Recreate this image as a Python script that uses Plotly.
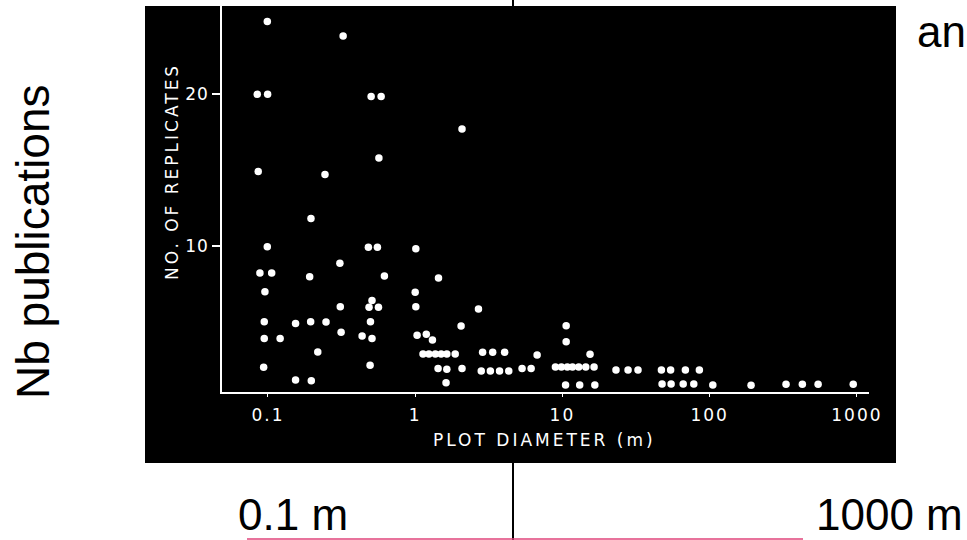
import plotly.graph_objects as go

# ---- data ----
diameter_m = [
    0.099, 0.0846, 0.0995, 0.0859, 0.099, 0.0882, 0.106, 0.0954, 0.0944, 0.0944, 0.121, 0.0935,
    0.324, 0.244, 0.196, 0.154, 0.192, 0.195, 0.248, 0.218, 0.154, 0.197, 0.308, 0.31, 0.314,
    0.502, 0.587, 0.567, 0.481, 0.554, 0.618, 0.509, 0.486, 0.563, 0.497, 0.436, 0.509, 0.494,
    2.08,
    1.01, 1.0, 1.01, 1.03, 1.19, 1.31,
    1.13, 1.24, 1.37, 1.50, 1.64, 1.87,
    1.44, 1.43, 1.64, 1.62, 2.08, 2.05,
    2.69, 2.87, 3.36, 4.05, 2.81, 3.24, 3.74, 4.32,
    5.32, 6.13, 6.73,
    10.6, 10.6,
    8.96, 9.84, 10.8, 11.7, 12.9, 14.4, 16.4,
    15.4, 10.5, 13.1, 16.6,
    23.1, 27.9, 32.6, 47, 54.3, 68.4, 85.1,
    47.5, 54.7, 66.1, 78,
    105, 191, 330, 426, 545, 944,
]
replicates = [
    24.8, 20.0, 20.0, 14.9, 9.93, 8.2, 8.2, 6.96, 4.98, 3.88, 3.88, 1.97,
    23.85, 14.7, 11.8, 4.87, 7.95, 4.98, 4.96, 2.98, 1.13, 1.08, 8.84, 5.97, 4.28,
    19.85, 19.85, 15.8, 9.9, 9.9, 8.0, 6.39, 5.93, 5.93, 4.98, 4.04, 3.88, 2.1,
    17.7,
    9.8, 6.92, 5.97, 4.08, 4.15, 3.77,
    2.85, 2.85, 2.85, 2.85, 2.85, 2.85,
    7.87, 1.9, 1.84, 0.95, 1.9, 4.7,
    5.82, 2.96, 2.96, 2.96, 1.72, 1.72, 1.72, 1.72,
    1.9, 1.9, 2.78,
    4.72, 3.66,
    1.99, 1.99, 1.99, 1.99, 1.99, 1.99, 1.99,
    2.83, 0.8, 0.8, 0.8,
    1.79, 1.79, 1.79, 1.79, 1.79, 1.79, 1.79,
    0.87, 0.87, 0.87, 0.87,
    0.8, 0.78, 0.85, 0.85, 0.85, 0.85,
]

x_tick_vals = [0.1, 1, 10, 100, 1000]
x_tick_labels = ["0.1", "1", "10", "100", "1000"]
y_tick_vals = [10, 20]
y_tick_labels = ["10", "20"]

x_title = "PLOT DIAMETER (m)"
y_title = "NO. OF REPLICATES"
slide_y_label = "Nb publications"
slide_left_label = "0.1 m"
slide_right_label = "1000 m"
slide_top_text = "an"

# target picture size (positions below are given in picture pixels)
W, H = 967, 540
# layout width used so the page fills the picture width exactly
LAYOUT_W = 980


def px(x):
    return x / W


def py(y):
    return 1 - y / H


def spaced(t, s):
    return f'<span style="letter-spacing:{s}px">{t}</span>'


scan_font = dict(family="DejaVu Sans", size=17, color="white")
slide_font = dict(family="Liberation Sans, Arial", size=44, color="black")

fig = go.Figure()
fig.add_trace(go.Scatter(
    x=diameter_m, y=replicates, mode="markers",
    marker=dict(color="white", size=7.5, line=dict(width=0)),
    showlegend=False, hoverinfo="skip",
))

fig.update_layout(
    width=LAYOUT_W, height=H, autosize=False,
    margin=dict(l=0, r=0, t=0, b=0, pad=0),
    paper_bgcolor="white",
    plot_bgcolor="black",
    xaxis=dict(
        type="log", range=[-1.312, 3.082],
        domain=[px(222), px(869)],
        showgrid=False, zeroline=False,
        showline=True, linecolor="white", linewidth=1.5,
        ticks="outside", ticklen=4, tickcolor="white", tickwidth=1,
        tickvals=x_tick_vals,
        ticktext=[spaced(t, 2) for t in x_tick_labels],
        tickfont=scan_font,
        ticklabelstandoff=3,
    ),
    yaxis=dict(
        range=[0.36, 25.83],
        domain=[py(391.7), py(6)],
        showgrid=False, zeroline=False,
        showline=True, linecolor="white", linewidth=1.5,
        ticks="outside", ticklen=8, tickcolor="white", tickwidth=1.5,
        tickvals=y_tick_vals,
        ticktext=[spaced(t, 1) for t in y_tick_labels],
        tickfont=scan_font,
    ),
    shapes=[
        dict(type="line", xref="paper", yref="paper",
             x0=px(513), x1=px(513), y0=0, y1=1,
             line=dict(color="black", width=2), layer="below"),
        dict(type="rect", xref="paper", yref="paper",
             x0=px(145), x1=px(896), y0=py(463), y1=py(6),
             fillcolor="black", line=dict(width=0), layer="below"),
        dict(type="line", xref="paper", yref="paper",
             x0=px(247), x1=px(803), y0=py(539), y1=py(539),
             line=dict(color="#e0457b", width=1.5)),
    ],
    annotations=[
        dict(text=spaced(x_title, 3), xref="paper", yref="paper",
             x=px(544), y=py(440), xanchor="center", yanchor="middle",
             showarrow=False, font=scan_font),
        dict(text=spaced(y_title, 3), xref="paper", yref="paper",
             x=px(172), y=py(172), xanchor="center", yanchor="middle",
             textangle=-90, showarrow=False, font=scan_font),
        dict(text=slide_y_label, xref="paper", yref="paper",
             x=px(33), y=py(242), xanchor="center", yanchor="middle",
             textangle=-90, showarrow=False,
             font=dict(family="Liberation Sans, Arial", size=46, color="black")),
        dict(text=slide_left_label, xref="paper", yref="paper",
             x=px(237), y=0, xanchor="left", yanchor="bottom",
             borderpad=0, showarrow=False, font=slide_font),
        dict(text=slide_right_label, xref="paper", yref="paper",
             x=px(815), y=0, xanchor="left", yanchor="bottom",
             borderpad=0, showarrow=False, font=slide_font),
        dict(text=slide_top_text, xref="paper", yref="paper",
             x=px(966), y=py(32), xanchor="right", yanchor="middle",
             borderpad=0, borderwidth=0,
             showarrow=False, font=slide_font),
    ],
)

fig.write_html("out.html")
